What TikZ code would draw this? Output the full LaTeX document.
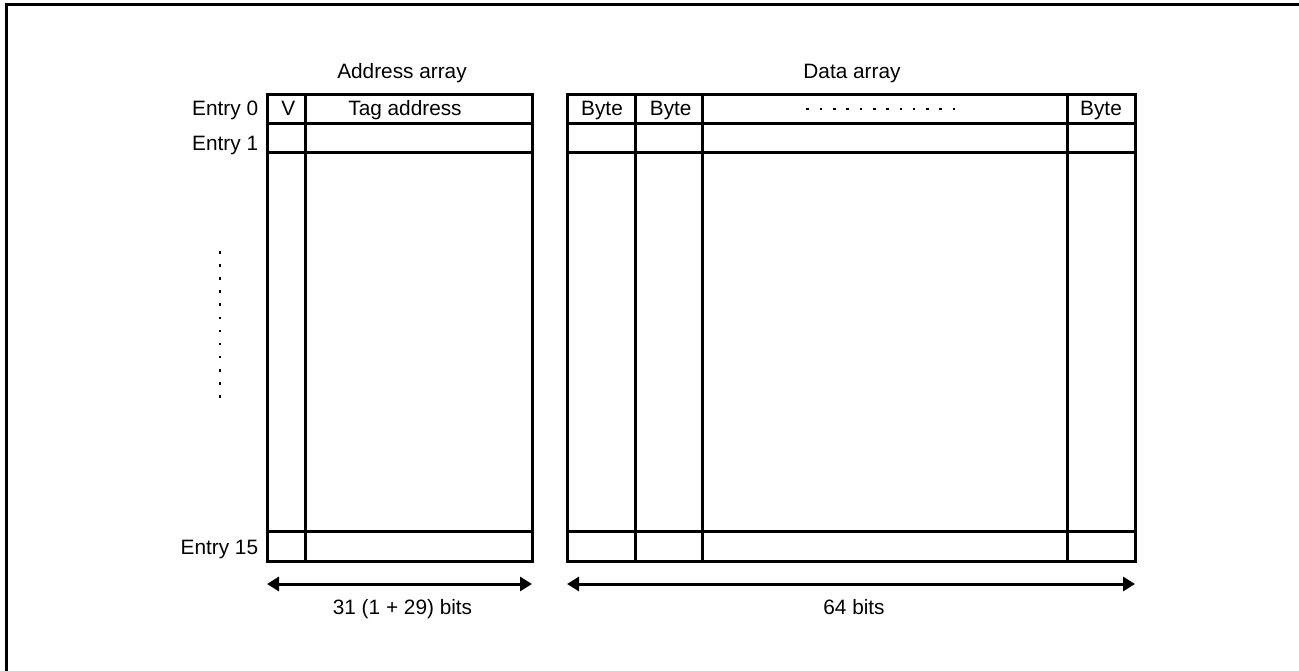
\documentclass[tikz,border=0pt]{standalone}
\usepackage{fontspec}
\setmainfont{Liberation Sans}
\usetikzlibrary{arrows.meta}
\tikzset{
  grid/.style={line width=3pt},
  lbl/.style={inner sep=0pt, anchor=base, font=\fontsize{20.8}{25}\selectfont},
  dimarrow/.style={line width=3pt, {Triangle[length=12pt,width=14pt]}-{Triangle[length=12pt,width=14pt]}},
  dotmark/.style={fill=black, inner sep=0pt, minimum size=2.6pt, shape=rectangle},
}
\begin{document}
\begin{tikzpicture}[x=1pt,y=-1pt]
\useasboundingbox (0,0) rectangle (1299,671);
% outer frame (only top and left visible)
\draw[line width=3pt] (6,700) -- (6,5) -- (1320,5);
% address array
\draw[grid] (267,95) rectangle (532,561);
\draw[grid] (305.7,95) -- (305.7,561);
\draw[grid] (267,124) -- (532,124);
\draw[grid] (267,153) -- (532,153);
\draw[grid] (267,531.7) -- (532,531.7);
% data array
\draw[grid] (567,95) rectangle (1135,561);
\foreach \xx in {635.7,702.3,1067.7} \draw[grid] (\xx,95) -- (\xx,561);
\draw[grid] (567,124) -- (1135,124);
\draw[grid] (567,153) -- (1135,153);
\draw[grid] (567,531.7) -- (1135,531.7);
% titles
\node[lbl] (at) at (402,79) {Address array};
\node[lbl] (dt) at (852,79) {Data array};
% header texts
\node[lbl] (v) at (288.3,116) {V};
\node[lbl] (tag) at (405,116) {Tag address};
\node[lbl] (b1) at (602,116) {Byte};
\node[lbl] (b2) at (670.7,116) {Byte};
\node[lbl] (bn) at (1101,116) {Byte};
\foreach \i in {0,...,11} \node[dotmark] (hd\i) at (807.7+13.3*\i,109) {};
% entry labels
\node[lbl, anchor=base east] (e0) at (258.3,115.7) {Entry 0};
\node[lbl, anchor=base east] (e1) at (258.3,150.3) {Entry 1};
\node[lbl, anchor=base east] (e15) at (258.3,554.3) {Entry 15};
\foreach \i in {0,...,11} \node[dotmark] (vd\i) at (220,252.3+13.1*\i) {};
% dimension arrows
\coordinate (a1) at (267,584);
\coordinate (a2) at (532,584);
\coordinate (d1) at (567,584);
\coordinate (d2) at (1135,584);
\draw[dimarrow] (a1) -- (a2);
\draw[dimarrow] (d1) -- (d2);
\node[lbl] (ab) at (402.5,614.3) {31 (1 + 29) bits};
\node[lbl] (db) at (854,614.3) {64 bits};
\end{tikzpicture}
\end{document}
